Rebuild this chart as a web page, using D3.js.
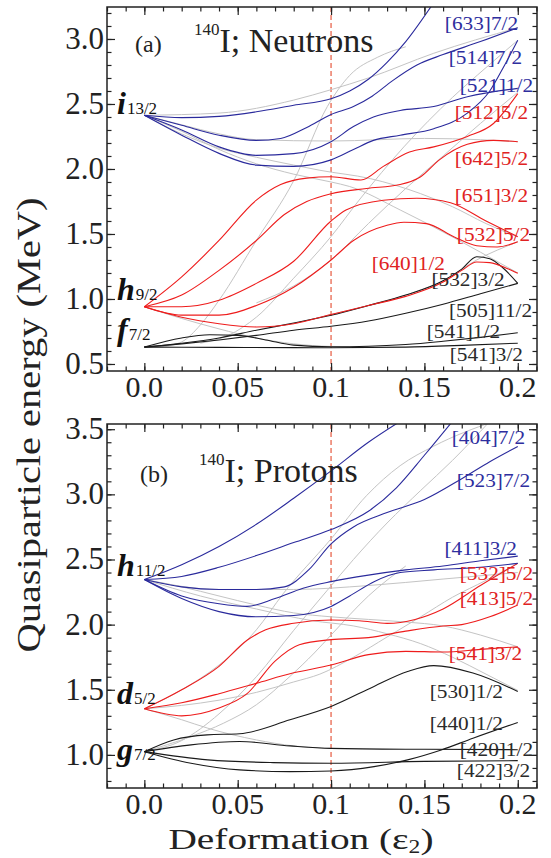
<!DOCTYPE html>
<html>
<head>
<meta charset="utf-8">
<script src="https://cdn.jsdelivr.net/npm/d3@7"></script>
<style>
  body { margin: 0; background: #fff; }
  text { font-family: "Liberation Serif", "Times New Roman", serif; }
</style>
</head>
<body>
<svg id="chart" width="551" height="858"></svg>
<script>
// ---- data ----
const xMajor = [0, 0.05, 0.1, 0.15, 0.2];
const xLabels = ["0.0", "0.05", "0.1", "0.15", "0.2"];
const yMajorN = [0.5, 1.0, 1.5, 2.0, 2.5, 3.0];
const yMajorP = [1.0, 1.5, 2.0, 2.5, 3.0, 3.5];
const crossing = 0.1;

// neutrons
const nGray = [
    [[0,2.413],[0.04,2.43],[0.08,2.53],[0.1,2.61],[0.12,2.70],[0.155,2.89],[0.2,3.087]],
    [[0,2.413],[0.02,2.34],[0.04,2.27],[0.06,2.225],[0.1,2.215],[0.15,2.235],[0.18,2.225],[0.2,2.21]],
    [[0,2.413],[0.02,2.27],[0.04,2.16],[0.06,2.09],[0.08,2.03],[0.094,1.99],[0.121,1.926],[0.148,1.81],[0.165,1.71],[0.183,1.58],[0.2,1.477]],
    [[0,2.413],[0.02,2.29],[0.04,2.15],[0.06,2.04],[0.08,1.96],[0.1,1.9],[0.11,1.865],[0.137,1.685],[0.166,1.47],[0.18,1.36],[0.2,1.2]],
    [[0,0.63],[0.01,0.635],[0.02,0.67],[0.03,0.8],[0.04,0.99],[0.06,1.45],[0.08,1.91],[0.098,2.48],[0.11,2.72],[0.125,2.86],[0.14,2.94]],
    [[0.03,0.66],[0.045,0.72],[0.06,0.86],[0.08,1.16],[0.1,1.48],[0.115,1.76],[0.139,2.17],[0.165,2.55],[0.183,2.78],[0.2,2.99]],
    [[0.06,0.97],[0.08,1.1],[0.1,1.30],[0.12,1.58],[0.14,1.85],[0.16,2.1],[0.18,2.35],[0.2,2.59]],
    [[0.08,0.81],[0.1,0.88],[0.14,1.03],[0.16,1.14],[0.178,1.3],[0.2,1.44]],
    [[0,0.94],[0.02,0.85],[0.04,0.77],[0.06,0.70],[0.08,0.655],[0.1,0.635],[0.12,0.632]]
];
const nBlue = [
    [[0,2.413],[0.02,2.395],[0.04,2.405],[0.06,2.44],[0.08,2.49],[0.1,2.54],[0.11,2.6],[0.12,2.69],[0.13,2.82],[0.14,2.98],[0.155,3.28]],
    [[0,2.413],[0.02,2.336],[0.04,2.26],[0.06,2.22],[0.073,2.235],[0.087,2.32],[0.1,2.42],[0.112,2.48],[0.122,2.56],[0.133,2.68],[0.146,2.8],[0.16,2.88],[0.18,2.98],[0.2,3.087]],
    [[0,2.413],[0.02,2.3],[0.04,2.17],[0.06,2.105],[0.08,2.118],[0.1,2.21],[0.112,2.326],[0.1227,2.40],[0.137,2.45],[0.155,2.48],[0.173,2.556],[0.2,2.62]],
    [[0,2.413],[0.02,2.26],[0.04,2.12],[0.06,2.03],[0.08,2.02],[0.1,2.07],[0.112,2.15],[0.1227,2.22],[0.137,2.26],[0.155,2.31],[0.173,2.43],[0.185,2.6],[0.193,2.8],[0.2,2.99]]
];
const nRed = [
    [[0,0.94],[0.02,1.17],[0.04,1.45],[0.06,1.76],[0.073,1.88],[0.087,1.93],[0.1,1.94],[0.116,1.915],[0.128,2.02],[0.142,2.13],[0.155,2.17],[0.173,2.25],[0.187,2.35],[0.2,2.58]],
    [[0,0.94],[0.02,1.03],[0.04,1.22],[0.06,1.45],[0.075,1.65],[0.087,1.75],[0.1,1.81],[0.119,1.85],[0.137,1.88],[0.148,1.94],[0.158,2.07],[0.173,2.19],[0.187,2.22],[0.2,2.21]],
    [[0,0.94],[0.02,0.94],[0.04,0.99],[0.06,1.12],[0.08,1.29],[0.1,1.6],[0.108,1.685],[0.128,1.76],[0.146,1.775],[0.164,1.74],[0.183,1.6],[0.2,1.48]],
    [[0,0.94],[0.02,0.876],[0.04,0.876],[0.06,0.95],[0.08,1.09],[0.1,1.30],[0.112,1.45],[0.13,1.567],[0.139,1.59],[0.151,1.58],[0.166,1.477],[0.178,1.41],[0.189,1.40],[0.2,1.44]],
    [[0,0.94],[0.02,0.86],[0.04,0.81],[0.06,0.785],[0.08,0.81],[0.1,0.88],[0.12,0.95],[0.14,1.02],[0.16,1.13],[0.17,1.22],[0.178,1.285],[0.185,1.28],[0.195,1.23],[0.2,1.197]]
];
const nBlack = [
    [[0,0.63],[0.02,0.70],[0.035,0.725],[0.05,0.72],[0.065,0.685],[0.08,0.645],[0.1,0.632],[0.12,0.636],[0.14,0.65],[0.16,0.675],[0.18,0.705],[0.2,0.74]],
    [[0,0.63],[0.04,0.628],[0.08,0.626],[0.1,0.625],[0.14,0.63],[0.17,0.643],[0.2,0.66]],
    [[0,0.63],[0.02,0.655],[0.04,0.685],[0.06,0.72],[0.08,0.76],[0.1,0.79],[0.12,0.83],[0.14,0.89],[0.16,0.96],[0.18,1.04],[0.2,1.12]],
    [[0,0.63],[0.02,0.66],[0.04,0.7],[0.06,0.76],[0.08,0.815],[0.1,0.875],[0.12,0.95],[0.14,1.03],[0.16,1.14],[0.17,1.23],[0.178,1.325],[0.185,1.31],[0.192,1.24],[0.2,1.12]]
];
// [text, colour group, eps at text end, E at baseline]
const nLabels = [
    ["[633]7/2", "blue", 0.2002, 3.069], ["[514]7/2", "blue", 0.2023, 2.808],
    ["[521]1/2", "blue", 0.2082, 2.592], ["[512]5/2", "red", 0.2055, 2.385],
    ["[642]5/2", "red", 0.2055, 2.031], ["[651]3/2", "red", 0.2055, 1.746],
    ["[532]5/2", "red", 0.2066, 1.446], ["[640]1/2", "red", 0.161, 1.223],
    ["[532]3/2", "black", 0.193, 1.1], ["[505]11/2", "black", 0.2077, 0.862],
    ["[541]1/2", "black", 0.1905, 0.7], ["[541]3/2", "black", 0.2028, 0.523]
];
// [letter, subscript, E at baseline]
const nOrbitals = [["i", "13/2", 2.423], ["h", "9/2", 0.992], ["f", "7/2", 0.685]];

// protons
const pGray = [
    [[0,1.354],[0.02,1.5],[0.04,1.69],[0.06,1.96],[0.0745,2.24],[0.0995,2.65],[0.119,2.99],[0.137,3.22],[0.155,3.37],[0.187,3.56]],
    [[0,1.025],[0.02,1.11],[0.04,1.315],[0.06,1.6],[0.08,1.956],[0.098,2.264],[0.112,2.5],[0.13,2.78],[0.148,3.03],[0.165,3.26],[0.185,3.56]],
    [[0,2.346],[0.03,2.22],[0.06,2.12],[0.09,2.03],[0.112,1.99],[0.13,1.93],[0.148,1.854],[0.165,1.75],[0.183,1.62],[0.2,1.495]],
    [[0,2.346],[0.02,2.29],[0.04,2.22],[0.06,2.15],[0.08,2.09],[0.1,2.06],[0.12,2.04],[0.14,2.02],[0.16,1.99],[0.18,1.92],[0.2,1.83]],
    [[0,1.354],[0.02,1.38],[0.04,1.42],[0.06,1.48],[0.08,1.56],[0.094,1.62],[0.112,1.75],[0.13,1.905],[0.148,2.06],[0.165,2.21],[0.183,2.34],[0.2,2.47]],
    [[0,1.354],[0.02,1.27],[0.034,1.205],[0.06,1.115],[0.08,1.069],[0.1,1.05]],
    [[0,1.025],[0.025,1.141],[0.0425,1.244],[0.06,1.385],[0.078,1.603],[0.091,1.782],[0.1,1.92],[0.12,2.22],[0.14,2.45]],
    [[0,2.346],[0.04,2.27],[0.08,2.27],[0.12,2.3],[0.16,2.35],[0.2,2.4]]
];
const pBlue = [
    [[0,2.346],[0.02,2.46],[0.04,2.6],[0.06,2.77],[0.08,2.97],[0.1,3.18],[0.12,3.4],[0.137,3.56]],
    [[0,2.346],[0.02,2.37],[0.04,2.44],[0.06,2.53],[0.08,2.63],[0.1,2.73],[0.12,2.87],[0.135,3.05],[0.15,3.3],[0.165,3.56]],
    [[0,2.346],[0.02,2.29],[0.04,2.27],[0.06,2.27],[0.075,2.29],[0.088,2.42],[0.1,2.62],[0.112,2.75],[0.13,2.86],[0.15,2.96],[0.17,3.12],[0.185,3.25],[0.2,3.367]],
    [[0,2.346],[0.02,2.22],[0.04,2.16],[0.055,2.14],[0.07,2.2],[0.085,2.28],[0.1,2.33],[0.12,2.38],[0.14,2.42],[0.16,2.45],[0.18,2.49],[0.2,2.526]],
    [[0,2.346],[0.02,2.2],[0.04,2.1],[0.06,2.06],[0.08,2.07],[0.1,2.14],[0.11,2.22],[0.123,2.33],[0.137,2.4],[0.155,2.42],[0.18,2.44],[0.2,2.47]]
];
const pRed = [
    [[0,1.354],[0.02,1.5],[0.04,1.68],[0.055,1.88],[0.065,1.96],[0.08,2.01],[0.1,2.035],[0.115,2.03],[0.13,2.01],[0.145,2.04],[0.16,2.12],[0.18,2.3],[0.2,2.47]],
    [[0,1.354],[0.02,1.3],[0.04,1.36],[0.055,1.47],[0.07,1.72],[0.083,1.846],[0.1,1.885],[0.12,1.9],[0.14,1.95],[0.16,1.99],[0.17,2.0],[0.185,2.06],[0.2,2.15]],
    [[0,1.354],[0.02,1.4],[0.04,1.47],[0.06,1.55],[0.08,1.63],[0.1,1.69],[0.12,1.77],[0.14,1.795],[0.16,1.79],[0.18,1.81],[0.2,1.83]]
];
const pBlack = [
    [[0,1.025],[0.0157,1.115],[0.0336,1.154],[0.051,1.162],[0.078,1.27],[0.1,1.372],[0.123,1.526],[0.141,1.64],[0.155,1.685],[0.176,1.628],[0.2,1.487]],
    [[0,1.025],[0.025,1.077],[0.051,1.103],[0.078,1.069],[0.1,1.05],[0.15,1.043],[0.2,1.04]],
    [[0,1.025],[0.034,0.962],[0.069,0.941],[0.1,0.936],[0.15,0.95],[0.2,0.956]],
    [[0,1.025],[0.025,0.936],[0.051,0.885],[0.078,0.872],[0.1,0.877],[0.123,0.91],[0.141,0.962],[0.159,1.038],[0.176,1.128],[0.2,1.249]]
];
const pLabels = [
    ["[404]7/2", "blue", 0.2039, 3.385], ["[523]7/2", "blue", 0.2066, 3.054],
    ["[411]3/2", "blue", 0.1996, 2.538], ["[532]5/2", "red", 0.2082, 2.346],
    ["[413]5/2", "red", 0.2082, 2.154], ["[541]3/2", "red", 0.2023, 1.731],
    ["[530]1/2", "black", 0.1921, 1.438], ["[440]1/2", "black", 0.1921, 1.192],
    ["[420]1/2", "black", 0.2082, 0.992], ["[422]3/2", "black", 0.2066, 0.831]
];
const pOrbitals = [["h", "11/2", 2.377], ["d", "5/2", 1.392], ["g", "7/2", 0.962]];

// ---- drawing ----
const colors = { gray: "#c4c4c4", blue: "#2a2a9c", red: "#ee1c1c", black: "#1a1a1a" };
const textColors = { blue: "#2e2e9e", red: "#e02222", black: "#2a2a2a" };
const svg = d3.select("#chart");
const X0 = 107, X1 = 537;

// widen a text element horizontally (the original figure uses a wide serif face)
function widen(sel, k) {
    sel.each(function () {
        const w = this.getComputedTextLength();
        d3.select(this).attr("textLength", w * k).attr("lengthAdjust", "spacingAndGlyphs");
    });
}

function panel(opt) {
    const x = d3.scaleLinear().domain([-0.02, 0.2103]).range([X0, X1]);
    const y = d3.scaleLinear().domain(opt.yDomain).range([opt.bottom, opt.top]);
    const g = svg.append("g");

    g.append("clipPath").attr("id", opt.id + "clip")
        .append("rect").attr("x", X0).attr("y", opt.top).attr("width", X1 - X0).attr("height", opt.bottom - opt.top);

    const plot = g.append("g").attr("clip-path", "url(#" + opt.id + "clip)");
    const line = d3.line().x(d => x(d[0])).y(d => y(d[1])).curve(d3.curveMonotoneX);

    // dashed crossing line
    plot.append("line")
        .attr("x1", x(crossing)).attr("x2", x(crossing))
        .attr("y1", opt.top).attr("y2", opt.bottom)
        .attr("stroke", "#e8664f").attr("stroke-width", 1.3).attr("stroke-dasharray", "5,3");

    function draw(set, col, w) {
        plot.selectAll(null).data(set).enter().append("path")
            .attr("d", line).attr("fill", "none")
            .attr("stroke", colors[col]).attr("stroke-width", w);
    }
    draw(opt.gray, "gray", 1);
    draw(opt.black, "black", 1.1);
    draw(opt.red, "red", 1.1);
    draw(opt.blue, "blue", 1.1);

    // axes: ticks inward on all sides
    const xMinor = d3.range(-0.02, 0.2101, 0.01);
    const yMinor = d3.range(Math.ceil(opt.yDomain[0] * 10) / 10, opt.yDomain[1], 0.1);
    const ax = [
        [d3.axisBottom(x), "translate(0," + opt.bottom + ")"],
        [d3.axisTop(x), "translate(0," + opt.top + ")"],
        [d3.axisLeft(y), "translate(" + X0 + ",0)"],
        [d3.axisRight(y), "translate(" + X1 + ",0)"]
    ];
    ax.forEach(function (a, i) {
        const isX = i < 2;
        g.append("g").attr("transform", a[1])
            .call(a[0].tickValues(isX ? xMinor : yMinor).tickSize(-4.5).tickFormat(""))
            .call(s => s.select(".domain").remove());
        g.append("g").attr("transform", a[1])
            .call(a[0].tickValues(isX ? xMajor : opt.yTicks).tickSize(-8).tickFormat(""))
            .call(s => s.select(".domain").remove());
    });
    g.selectAll(".tick line").attr("stroke", "#222").attr("stroke-width", 1.2);

    g.append("rect").attr("x", X0).attr("y", opt.top)
        .attr("width", X1 - X0).attr("height", opt.bottom - opt.top)
        .attr("fill", "none").attr("stroke", "#222").attr("stroke-width", 1.5);

    // tick labels
    g.selectAll(null).data(xMajor).enter().append("text")
        .attr("x", d => x(d)).attr("y", opt.bottom + 26)
        .attr("text-anchor", "middle").attr("font-size", 30).attr("fill", "#222")
        .text((d, i) => xLabels[i]);
    g.selectAll(null).data(opt.yTicks).enter().append("text")
        .attr("x", X0 - 3).attr("y", d => y(d) + 10)
        .attr("text-anchor", "end").attr("font-size", 31).attr("fill", "#222")
        .text(d => d.toFixed(1));

    // state labels
    g.selectAll(null).data(opt.labels).enter().append("text")
        .attr("x", d => x(d[2])).attr("y", d => y(d[3]))
        .attr("text-anchor", "end").attr("font-size", 19)
        .attr("fill", d => textColors[d[1]])
        .text(d => d[0])
        .call(widen, 1.12);

    // spherical orbitals
    opt.orbitals.forEach(function (o) {
        const t = g.append("text").attr("x", X0 + 10).attr("y", y(o[2])).attr("fill", "#111");
        t.append("tspan").attr("font-size", 32).attr("font-style", "italic").attr("font-weight", "bold").text(o[0]);
        t.append("tspan").attr("font-size", 17).attr("dx", 1).text(o[1]);
    });

    // panel titles
    g.append("text").attr("x", opt.tagX).attr("y", opt.titleY)
        .attr("font-size", 24).attr("fill", "#222").text(opt.tag);
    const tt = g.append("text").attr("x", opt.titleX).attr("y", opt.titleY).attr("fill", "#222");
    tt.append("tspan").attr("font-size", 17).attr("dy", -17).text("140");
    tt.append("tspan").attr("font-size", 34).attr("dy", 17).text(opt.title);
}

panel({
    id: "n", top: 7, bottom: 371, yDomain: [0.446, 3.246], yTicks: yMajorN,
    gray: nGray, blue: nBlue, red: nRed, black: nBlack,
    labels: nLabels, orbitals: nOrbitals,
    tag: "(a)", tagX: 135, titleX: 194, titleY: 52, title: "I; Neutrons"
});
panel({
    id: "p", top: 424, bottom: 788, yDomain: [0.746, 3.54], yTicks: yMajorP,
    gray: pGray, blue: pBlue, red: pRed, black: pBlack,
    labels: pLabels, orbitals: pOrbitals,
    tag: "(b)", tagX: 140, titleX: 199, titleY: 482, title: "I; Protons"
});

// axis titles
svg.append("text")
    .attr("transform", "translate(40,425) rotate(-90)")
    .attr("text-anchor", "middle").attr("font-size", 34).attr("fill", "#222")
    .attr("textLength", 455).attr("lengthAdjust", "spacingAndGlyphs")
    .text("Quasiparticle energy (MeV)");
const xt = svg.append("text").attr("x", 301).attr("y", 849)
    .attr("text-anchor", "middle").attr("font-size", 30).attr("fill", "#222")
    .attr("textLength", 265).attr("lengthAdjust", "spacingAndGlyphs");
xt.append("tspan").text("Deformation (ε");
xt.append("tspan").attr("font-size", 18).attr("dy", 4).text("2");
xt.append("tspan").attr("dy", -4).text(")");
</script>
</body>
</html>
